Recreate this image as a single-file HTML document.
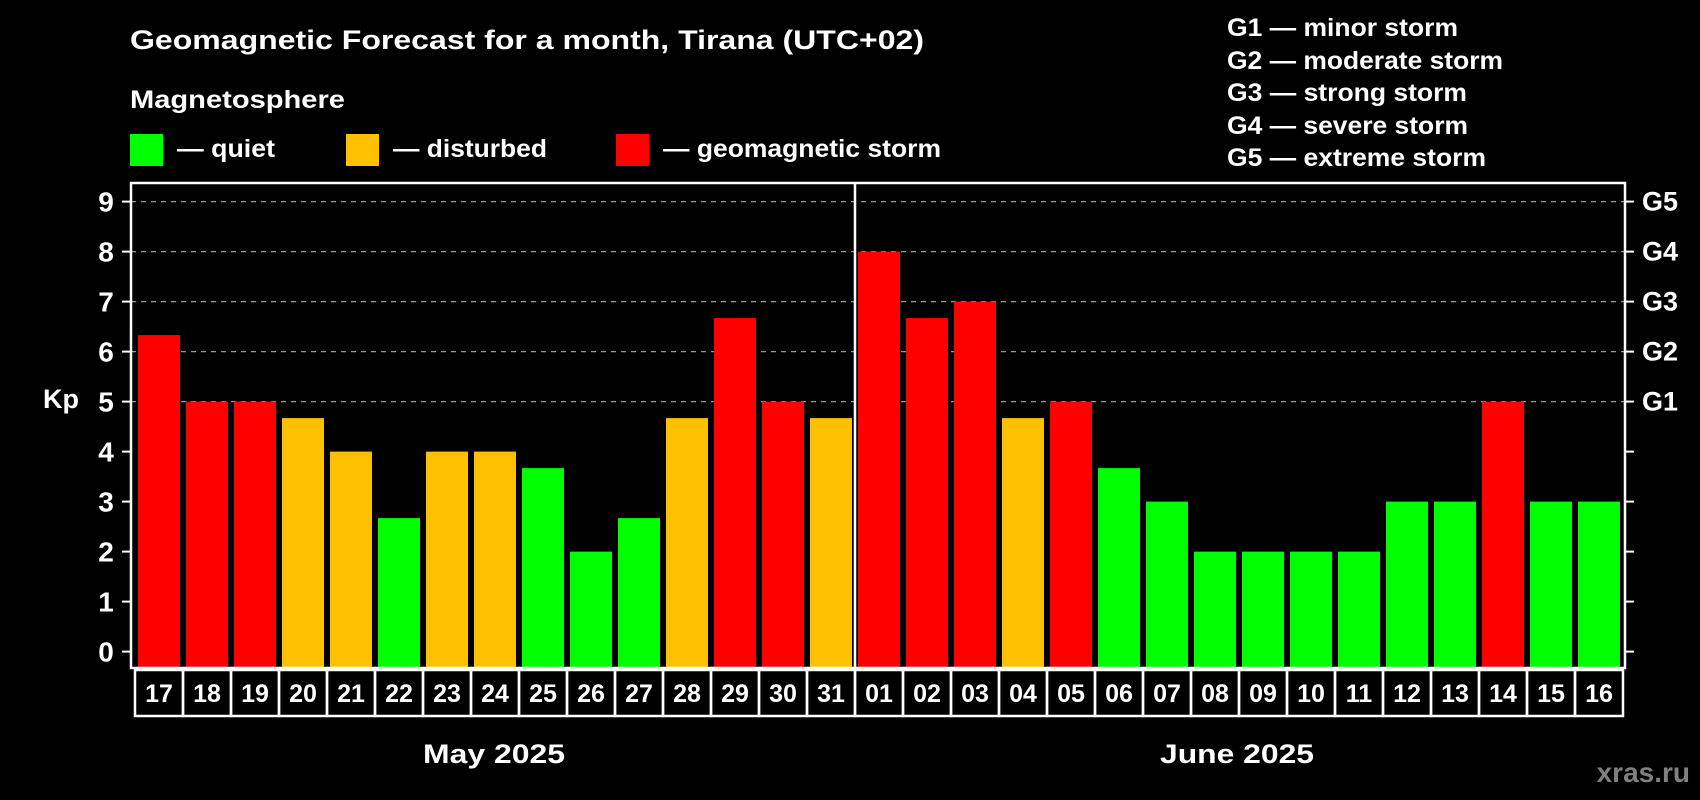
<!DOCTYPE html>
<html><head><meta charset="utf-8"><style>
html,body{margin:0;padding:0;background:#000;}
svg{display:block;font-family:"Liberation Sans",Arial,sans-serif;font-weight:bold;}
</style></head><body>
<svg id="chart" width="1700" height="800" viewBox="0 0 1700 800" xmlns="http://www.w3.org/2000/svg">
<rect width="1700" height="800" fill="#000"/>
<text x="130" y="49" fill="#fff" font-size="27" textLength="794" lengthAdjust="spacingAndGlyphs">Geomagnetic Forecast for a month, Tirana (UTC+02)</text>
<text x="130" y="108" fill="#fff" font-size="25" textLength="215" lengthAdjust="spacingAndGlyphs">Magnetosphere</text>
<rect x="130" y="134" width="33" height="32" fill="#00ff00"/>
<text x="177" y="157" fill="#fff" font-size="25" textLength="98" lengthAdjust="spacingAndGlyphs">— quiet</text>
<rect x="346" y="134" width="33" height="32" fill="#ffc000"/>
<text x="393" y="157" fill="#fff" font-size="25" textLength="154" lengthAdjust="spacingAndGlyphs">— disturbed</text>
<rect x="616" y="134" width="33" height="32" fill="#ff0000"/>
<text x="663" y="157" fill="#fff" font-size="25" textLength="278" lengthAdjust="spacingAndGlyphs">— geomagnetic storm</text>
<g fill="#fff" font-size="25">
<text x="1227" y="36" textLength="231" lengthAdjust="spacingAndGlyphs">G1 — minor storm</text>
<text x="1227" y="69" textLength="276" lengthAdjust="spacingAndGlyphs">G2 — moderate storm</text>
<text x="1227" y="101" textLength="240" lengthAdjust="spacingAndGlyphs">G3 — strong storm</text>
<text x="1227" y="134" textLength="241" lengthAdjust="spacingAndGlyphs">G4 — severe storm</text>
<text x="1227" y="166" textLength="259" lengthAdjust="spacingAndGlyphs">G5 — extreme storm</text>
</g>
<text x="43" y="408" fill="#fff" font-size="27">Kp</text>
<text x="494" y="763" fill="#fff" font-size="27" text-anchor="middle" textLength="142" lengthAdjust="spacingAndGlyphs">May 2025</text>
<text x="1237" y="763" fill="#fff" font-size="27" text-anchor="middle" textLength="154" lengthAdjust="spacingAndGlyphs">June 2025</text>
<text x="1690" y="782" fill="#808080" font-size="28" text-anchor="end">xras.ru</text>
<g id="plot"></g>
</svg>
<script>
const days=["17","18","19","20","21","22","23","24","25","26","27","28","29","30","31","01","02","03","04","05","06","07","08","09","10","11","12","13","14","15","16"];
const kp=[6.33,5,5,4.67,4,2.67,4,4,3.67,2,2.67,4.67,6.67,5,4.67,8,6.67,7,4.67,5,3.67,3,2,2,2,2,3,3,5,3,3];
const yTicks=[0,1,2,3,4,5,6,7,8,9];
const gLabels=["G1","G2","G3","G4","G5"];
const gLevels=[5,6,7,8,9];
const NS="http://www.w3.org/2000/svg";
const L=131,R=1625,T=183,B=668,y0=651.6,unit=50,x0=138,pitch=48,bw=42;
const y=v=>y0-v*unit, x=i=>x0+i*pitch;
const g=document.getElementById('plot');
function mk(t,a){const e=document.createElementNS(NS,t);for(const k in a)e.setAttribute(k,a[k]);g.appendChild(e);return e;}
gLevels.forEach((v,i)=>{
 const l=mk('line',{x1:L,x2:R,y1:y(v),y2:y(v),stroke:'#999','stroke-width':1.3,'stroke-dasharray':'5,5'});
 
 
 const t=mk('text',{x:1642,y:y(v)+9,fill:'#fff','font-size':27});t.textContent=gLabels[i];
 
 
});
kp.forEach((v,i)=>{
 const c=v>=5?'#ff0000':(v>=4?'#ffc000':'#00ff00');
 const r=mk('rect',{x:x(i),y:y(v),width:bw,height:B-y(v),fill:c});
 
 
 const b=mk('rect',{x:x(i)-3,y:670,width:pitch,height:46,fill:'none',stroke:'#fff','stroke-width':2.5});
 
 
 const t=mk('text',{x:x(i)+bw/2,y:702,fill:'#fff','font-size':25,'text-anchor':'middle'});t.textContent=days[i];
 
 
});
yTicks.forEach(v=>{
 const a=mk('line',{x1:122,x2:L,y1:y(v),y2:y(v),stroke:'#fff','stroke-width':2});
 
 
 const b=mk('line',{x1:R,x2:1634,y1:y(v),y2:y(v),stroke:'#fff','stroke-width':2});
 
 
 const t=mk('text',{x:106,y:y(v)+10,fill:'#fff','font-size':28,'text-anchor':'middle'});t.textContent=v;
 
 
});
const f=mk('rect',{x:L,y:T,width:R-L,height:B-T,fill:'none',stroke:'#fff','stroke-width':2.5});


const d=mk('line',{x1:855,x2:855,y1:T,y2:B,stroke:'#fff','stroke-width':2.5});


</script>
</body></html>
